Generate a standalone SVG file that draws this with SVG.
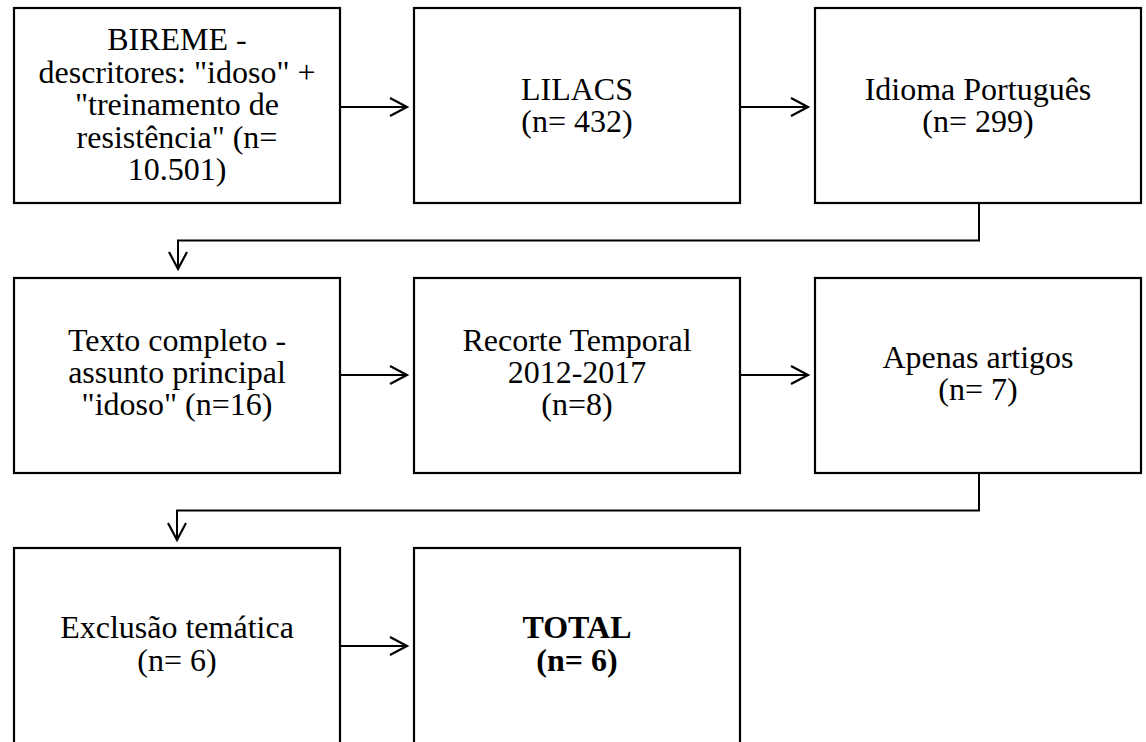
<svg xmlns="http://www.w3.org/2000/svg" width="1146" height="742" viewBox="0 0 1146 742">
<style>
.box{fill:#fff;stroke:#000;stroke-width:2.2}
.t{font-family:"Liberation Serif","Times New Roman",serif;font-size:32px;fill:#000;text-anchor:middle}
.b{font-weight:bold}
.c{fill:none;stroke:#000;stroke-width:2}
</style>
<defs>
<marker id="ah" markerUnits="userSpaceOnUse" markerWidth="24" markerHeight="24" viewBox="-20 -12 24 24" refX="0" refY="0" orient="auto">
<path d="M-17,-9 L0,0 L-17,9" fill="none" stroke="#000" stroke-width="2.2"/>
</marker>
</defs>
<rect width="1146" height="742" fill="#fff"/>
<g id="n1"><rect class="box" x="14" y="8" width="326" height="195"/>
<text class="t" x="177" y="50">BIREME -</text>
<text class="t" x="177" y="82.5">descritores: "idoso" +</text>
<text class="t" x="177" y="115">"treinamento de</text>
<text class="t" x="177" y="147.5">resistência" (n=</text>
<text class="t" x="177" y="180">10.501)</text></g>
<g id="n2"><rect class="box" x="414" y="8" width="326" height="195"/>
<text class="t" x="577" y="99.5">LILACS</text>
<text class="t" x="577" y="132">(n= 432)</text></g>
<g id="n3"><rect class="box" x="815" y="8" width="326" height="195"/>
<text class="t" x="978" y="99.5">Idioma Português</text>
<text class="t" x="978" y="132">(n= 299)</text></g>
<g id="n4"><rect class="box" x="14" y="278" width="326" height="195"/>
<text class="t" x="177" y="351">Texto completo -</text>
<text class="t" x="177" y="383">assunto principal</text>
<text class="t" x="177" y="415">"idoso" (n=16)</text></g>
<g id="n5"><rect class="box" x="414" y="278" width="326" height="195"/>
<text class="t" x="577" y="351">Recorte Temporal</text>
<text class="t" x="577" y="383">2012-2017</text>
<text class="t" x="577" y="415">(n=8)</text></g>
<g id="n6"><rect class="box" x="815" y="278" width="326" height="195"/>
<text class="t" x="978" y="368">Apenas artigos</text>
<text class="t" x="978" y="400">(n= 7)</text></g>
<g id="n7"><rect class="box" x="14" y="548" width="326" height="200"/>
<text class="t" x="177" y="638">Exclusão temática</text>
<text class="t" x="177" y="671">(n= 6)</text></g>
<g id="n8"><rect class="box" x="414" y="548" width="326" height="200"/>
<text class="t b" x="577" y="638">TOTAL</text>
<text class="t b" x="577" y="671">(n= 6)</text></g>
<g id="connectors">
<path class="c" d="M340,107 H407" marker-end="url(#ah)"/>
<path class="c" d="M740,107 H808" marker-end="url(#ah)"/>
<path class="c" d="M979,203 V240.5 H178 V269" marker-end="url(#ah)"/>
<path class="c" d="M340,375 H407" marker-end="url(#ah)"/>
<path class="c" d="M740,375 H808" marker-end="url(#ah)"/>
<path class="c" d="M979,473 V510.5 H177 V540" marker-end="url(#ah)"/>
<path class="c" d="M340,646 H407" marker-end="url(#ah)"/>
</g>
</svg>
